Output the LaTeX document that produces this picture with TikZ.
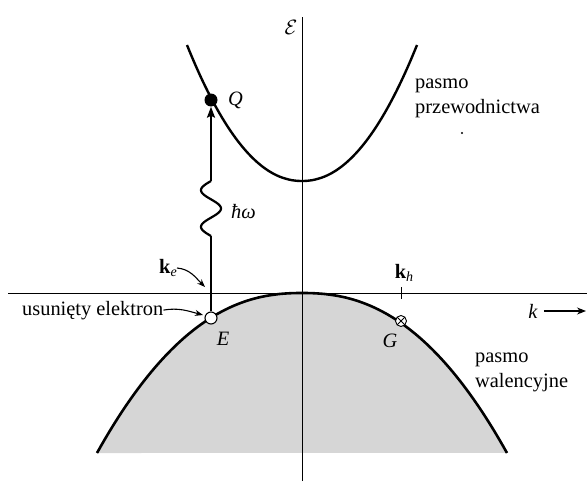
\documentclass[tikz,border=0pt]{standalone}
\usepackage{fontspec}
\setmainfont{Liberation Serif}
\usetikzlibrary{arrows.meta}
\newcommand{\subsc}[1]{\raisebox{-0.35ex}{\fontsize{14}{15}\selectfont\itshape #1}}
\begin{document}
\begin{tikzpicture}[x=1pt,y=-1pt,
  band/.style={line width=2.6pt},
  axisline/.style={line width=1pt},
  lbl/.style={font=\fontsize{20.4}{24.5}\selectfont, inner sep=0pt},
  pointer/.style={line width=1.1pt,-{Stealth[length=8pt,width=6pt]}},
  photon/.style={line width=2.2pt},
  dotopen/.style={circle, draw, fill=white, line width=1.1pt, minimum size=12pt, inner sep=0pt},
  dotfull/.style={circle, fill=black, minimum size=13pt, inner sep=0pt},
]
\useasboundingbox (0,0) rectangle (587,482);
% shaded valence band
\fill[black!16] plot[domain=-205:205, samples=100] ({302+\x},{293+160*pow(abs(\x)/205,2.3)}) -- cycle;
% axes
\coordinate (vtop) at (302,17);
\coordinate (vbot) at (302,481);
\coordinate (hl) at (8,293);
\coordinate (hr) at (587,293);
\draw[axisline] (vbot) -- (vtop);
\draw[axisline] (hl) -- (hr);
% bands
\draw[band] plot[domain=-205:205, samples=100] ({302+\x},{293+160*pow(abs(\x)/205,2.3)});
\draw[band, line width=2.4pt] plot[domain=-115:115, samples=100] ({302+\x},{181-136*pow(abs(\x)/115,2.1)});
% points
\node[dotfull] (Q) at (211,100) {};
\node[dotopen] (E) at (211,318) {};
\node[dotopen, line width=0.9pt, minimum size=11pt,
  path picture={\draw[line width=0.9pt] (path picture bounding box.north west) -- (path picture bounding box.south east)
  (path picture bounding box.north east) -- (path picture bounding box.south west);}] (G) at (401,321) {};
% photon transition
\coordinate (w0) at (211,236);
\coordinate (w1) at (211,181);
\draw[photon] (E) -- (w0);
\draw[photon] plot[domain=0:540, samples=61] ({211-10*sin(\x)},{236-\x/540*55});
\draw[photon,-{Stealth[length=11pt,width=8pt,inset=2pt]}] (w1) -- (Q.south);
% labels
\node[lbl] (calE) at (291,27) {$\mathcal{E}$};
\node[lbl, anchor=west] (Ql) at (228,100) {\textit{Q}};
\node[lbl, anchor=west] (hw) at (231,212) {\itshape ħω};
\node[lbl] (El) at (223,339) {\textit{E}};
\node[lbl] (Gl) at (390,341) {\textit{G}};
\node[lbl] (ke) at (168,268) {\textbf{k}\subsc{e}};
\coordinate (keT) at (205,287);
\draw[pointer] (ke.east) to[out=-5,in=135] (keT);
\node[lbl, anchor=base west] (ue) at (22,315) {usunięty elektron};
\coordinate (ueT) at (203,315);
\draw[pointer] (ue.east) to[out=10,in=165] (ueT);
\node[lbl] (kh) at (404,273) {\textbf{k}\subsc{h}};
\coordinate (kht) at (401,287);
\coordinate (khb) at (401,299);
\draw[axisline] (kht) -- (khb);
\node[lbl] (kl) at (533,311) {\textit{k}};
\coordinate (kend) at (586,311);
\draw[line width=1.1pt,-{Stealth[length=9pt,width=7pt]}] ([xshift=6pt]kl.east) -- (kend);
\node[lbl, anchor=base west, align=left] (cb) at (415,113) {pasmo\\przewodnictwa};
\node[lbl, anchor=base west, align=left] (vb) at (475,387) {pasmo\\walencyjne};
\fill (462,133) circle (1.2pt);
\end{tikzpicture}
\end{document}
